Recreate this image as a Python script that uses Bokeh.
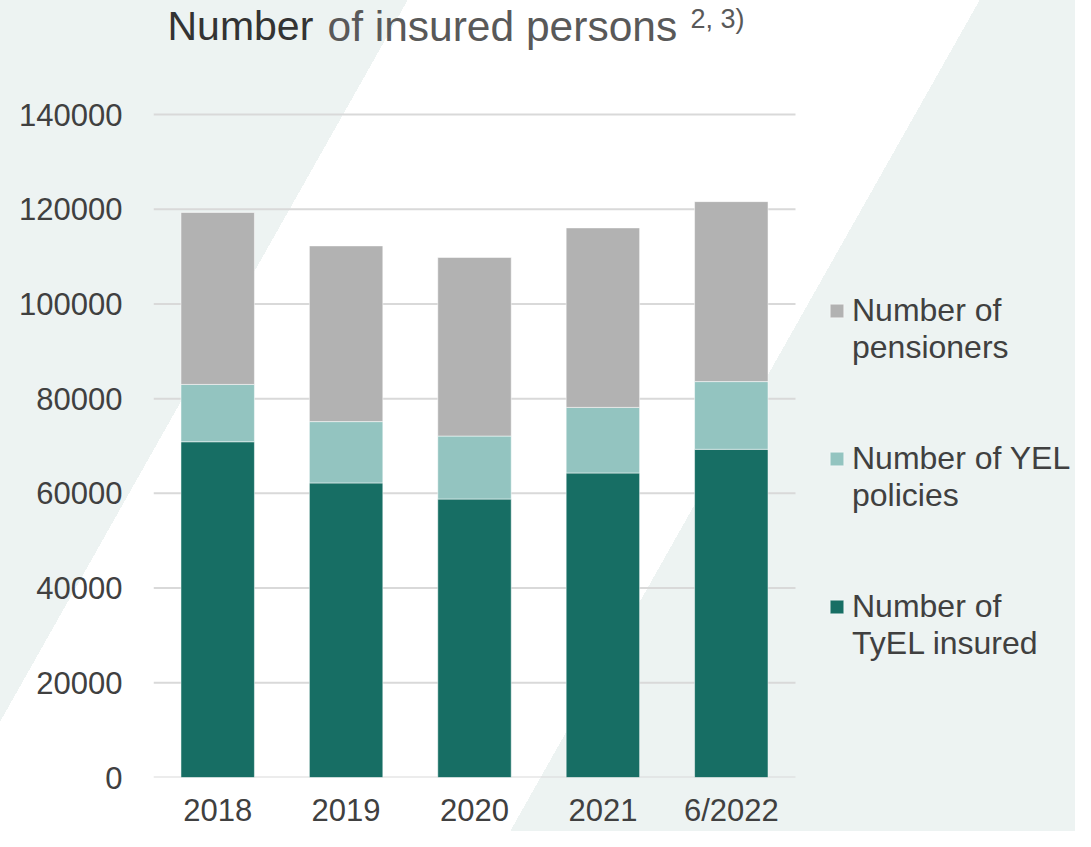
from bokeh.plotting import figure
from bokeh.models import (Range1d, FixedTicker, BasicTickFormatter,
                          Legend, LegendItem, Label, ColumnDataSource)
from bokeh.embed import file_html
from bokeh.resources import INLINE

# ---- data ----
categories = ["2018", "2019", "2020", "2021", "6/2022"]
tyel_insured = [70900, 62200, 58800, 64300, 69300]
yel_policies = [12100, 12950, 13300, 13850, 14300]
pensioners = [36300, 37100, 37700, 37900, 38000]
y_ticks = [0, 20000, 40000, 60000, 80000, 100000, 120000, 140000]
series_keys = ["tyel", "yel", "pens"]
series_colors = ["#176e64", "#93c4c0", "#b2b2b2"]

FONT = "Liberation Sans"
TEXT = "#404040"
BG = "#edf3f2"

W, H = 1075, 831
BOTTOM_BORDER = 54
FL, FB = 153, H - BOTTOM_BORDER   # frame left / bottom in canvas px (frame top = 0, right = W)
PLOT_R = 795                      # right end of the bar area
Y140 = 114                        # canvas y of the 140000 gridline
y_top = 140000 + Y140 / (FB - Y140) * 140000

positions = list(range(len(categories)))
x_lo = positions[0] - 0.5
x_hi_bars = positions[-1] + 0.5
unit = (PLOT_R - FL) / (x_hi_bars - x_lo)
x_end = x_lo + (W - FL) / unit

p = figure(x_range=Range1d(x_lo, x_end), y_range=Range1d(0, y_top), title=None,
           width=W, height=H, output_backend="svg", toolbar_location=None,
           min_border_left=FL, min_border_right=0,
           min_border_top=0, min_border_bottom=BOTTOM_BORDER)
p.background_fill_color = None
p.border_fill_color = None
p.outline_line_color = None
# page background with the diagonal white band
p.styles = {"background": ("linear-gradient(119.46deg, %s 0px, %s 355px, #ffffff 355px, "
                           "#ffffff 853px, %s 853px, %s 100%%)") % (BG, BG, BG, BG)}

# horizontal gridlines limited to the bar area
p.xgrid.grid_line_color = None
p.ygrid.grid_line_color = None
p.segment(x0=[x_lo] * len(y_ticks), x1=[x_hi_bars] * len(y_ticks), y0=y_ticks, y1=y_ticks,
          line_color="#d9d9d9", line_width=2)

source = ColumnDataSource(dict(pos=positions, tyel=tyel_insured, yel=yel_policies, pens=pensioners))
rs = p.vbar_stack(series_keys, x="pos", width=0.572, source=source,
                  fill_color=series_colors, line_color="white", line_width=1, line_alpha=0.5)

# axes
p.yaxis.ticker = FixedTicker(ticks=y_ticks)
p.yaxis.formatter = BasicTickFormatter(use_scientific=False)
p.xaxis.ticker = FixedTicker(ticks=positions)
p.xaxis.major_label_overrides = {i: c for i, c in zip(positions, categories)}
for ax in (p.xaxis[0], p.yaxis[0]):
    ax.axis_line_color = None
    ax.major_tick_line_color = None
    ax.minor_tick_line_color = None
    ax.major_tick_out = 0
    ax.major_tick_in = 0
    ax.major_label_text_font = FONT
    ax.major_label_text_font_size = "31px"
    ax.major_label_text_color = TEXT
p.yaxis.major_label_standoff = 31
p.xaxis.major_label_standoff = 15

# legend with wrapped labels
ROW = 37
rows = [("Number of", [rs[2]]), ("pensioners", []), (" ", []), (" ", []),
        ("Number of YEL", [rs[1]]), ("policies", []), (" ", []), (" ", []),
        ("Number of", [rs[0]]), ("TyEL insured", [])]
first_center = 310
legend_bottom = first_center - ROW / 2 + ROW * len(rows)
legend = Legend(items=[LegendItem(label=t, renderers=r) for t, r in rows],
                location=(828 - FL, FB - legend_bottom), orientation="vertical",
                padding=0, margin=0, spacing=0, label_height=ROW,
                glyph_width=17, glyph_height=17, label_standoff=7,
                border_line_alpha=0, background_fill_alpha=0,
                label_text_font=FONT, label_text_font_size="32px",
                label_text_color=TEXT, label_text_baseline="middle")
p.add_layout(legend)

# title (labels measured from a point 15px below the frame bottom)
LABEL_OFFSET = 15
def lx(cx):
    return cx - FL
def ly(cy):
    return FB + LABEL_OFFSET - cy

p.add_layout(Label(x=lx(167), y=ly(40.5), x_units="screen", y_units="screen",
                   text="Number", text_font=FONT, text_font_size="41px",
                   text_color="#333333", text_baseline="alphabetic"))
p.add_layout(Label(x=lx(327), y=ly(40.5), x_units="screen", y_units="screen",
                   text="of insured persons", text_font=FONT, text_font_size="42.5px",
                   text_color="#595959", text_baseline="alphabetic"))
p.add_layout(Label(x=lx(690), y=ly(33.5), x_units="screen", y_units="screen",
                   text="2, 3)", text_font=FONT, text_font_size="27px",
                   text_color="#595959", text_baseline="alphabetic"))

open("out.html", "w").write(file_html(p, INLINE))
